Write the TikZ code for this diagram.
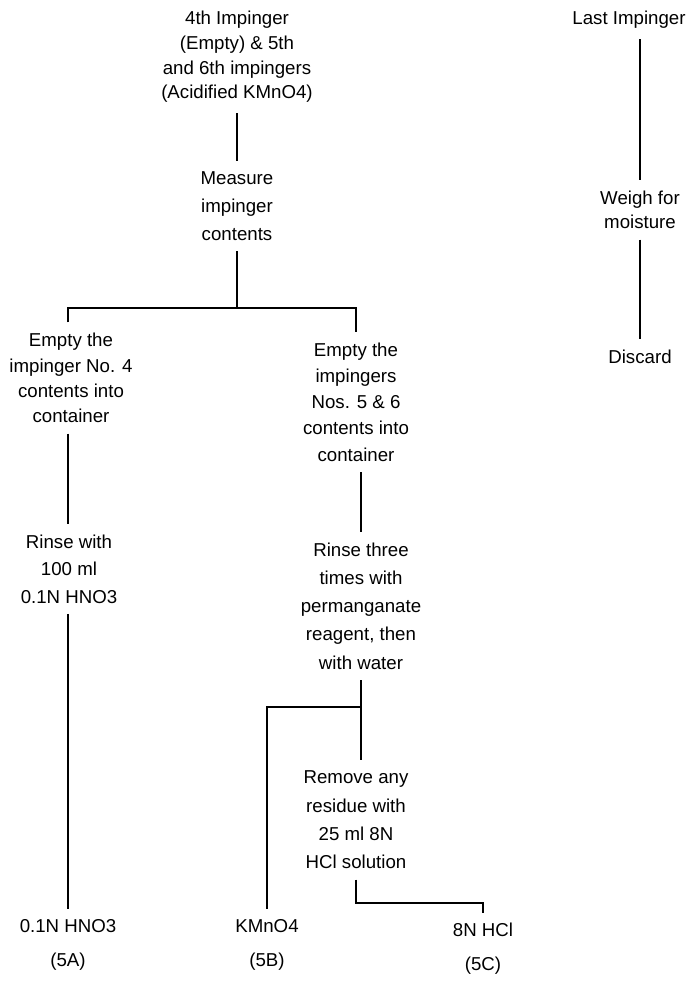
\documentclass[tikz,border=0pt]{standalone}
\usepackage{fontspec}
\setmainfont{Liberation Sans}
\begin{document}
\begin{tikzpicture}[x=0.75pt,y=-0.75pt,
  txt/.style={align=center,inner sep=0pt,outer sep=8pt,font=\fontsize{14}{#1}\selectfont},
  txt/.default=20,
  conn/.style={line width=1pt}]
\useasboundingbox (0,0) rectangle (691,984);
% nodes
\node[txt=18.5] (top) at (237,57) {4th Impinger\\(Empty) \& 5th\\and 6th impingers\\(Acidified KMnO4)};
\node[txt=21] (meas) at (237,206) {Measure\\impinger\\contents};
\node[txt] (last) at (629,20) {Last Impinger};
\node[txt=18] (weigh) at (640,210) {Weigh for\\moisture};
\node[txt] (disc) at (640,357) {Discard};
\node[txt=19] (emp4) at (71,378) {Empty the\\impinger No. 4\\contents into\\container};
\node[txt=19.7] (emp56) at (356,402) {Empty the\\impingers\\Nos. 5 \& 6\\contents into\\container};
\node[txt=20.6] (rin1) at (69,569) {Rinse with\\100 ml\\0.1N HNO3};
\node[txt=21.2] (rin3) at (361,606) {Rinse three\\times with\\permanganate\\reagent, then\\with water};
\node[txt=21.2] (rem) at (356,820) {Remove any\\residue with\\25 ml 8N\\HCl solution};
\node[txt=25.5] (a5) at (68,945) {0.1N HNO3\\(5A)};
\node[txt=25.5] (b5) at (267,945) {KMnO4\\(5B)};
\node[txt=25.5] (c5) at (483,949) {8N HCl\\(5C)};
% junctions
\coordinate (j1) at (237,308);
\coordinate (j2) at (361,707);
\coordinate (j3) at (356,903);
\coordinate (k1) at (640,35);
% connectors
\draw[conn] (top.south) -- (meas.north);
\draw[conn] (meas.south) -- (j1);
\draw[conn] (emp4.north -| a5) -- (a5 |- j1) -- (emp56.north |- j1) -- (emp56.north);
\draw[conn] (emp4.south -| a5) -- (rin1.north -| a5);
\draw[conn] (rin1.south -| a5) -- (a5.north);
\draw[conn] (emp56.south -| rin3) -- (rin3.north);
\draw[conn] (rin3.south) -- (j2) -- (rem.north -| j2);
\draw[conn] (j2) -- (j2 -| b5) -- (b5.north);
\draw[conn] (rem.south) -- (j3) -- (j3 -| c5) -- (c5.north);
\draw[conn] (last.south -| weigh) -- (weigh.north);
\draw[conn] (weigh.south) -- (disc.north);
\end{tikzpicture}
\end{document}
